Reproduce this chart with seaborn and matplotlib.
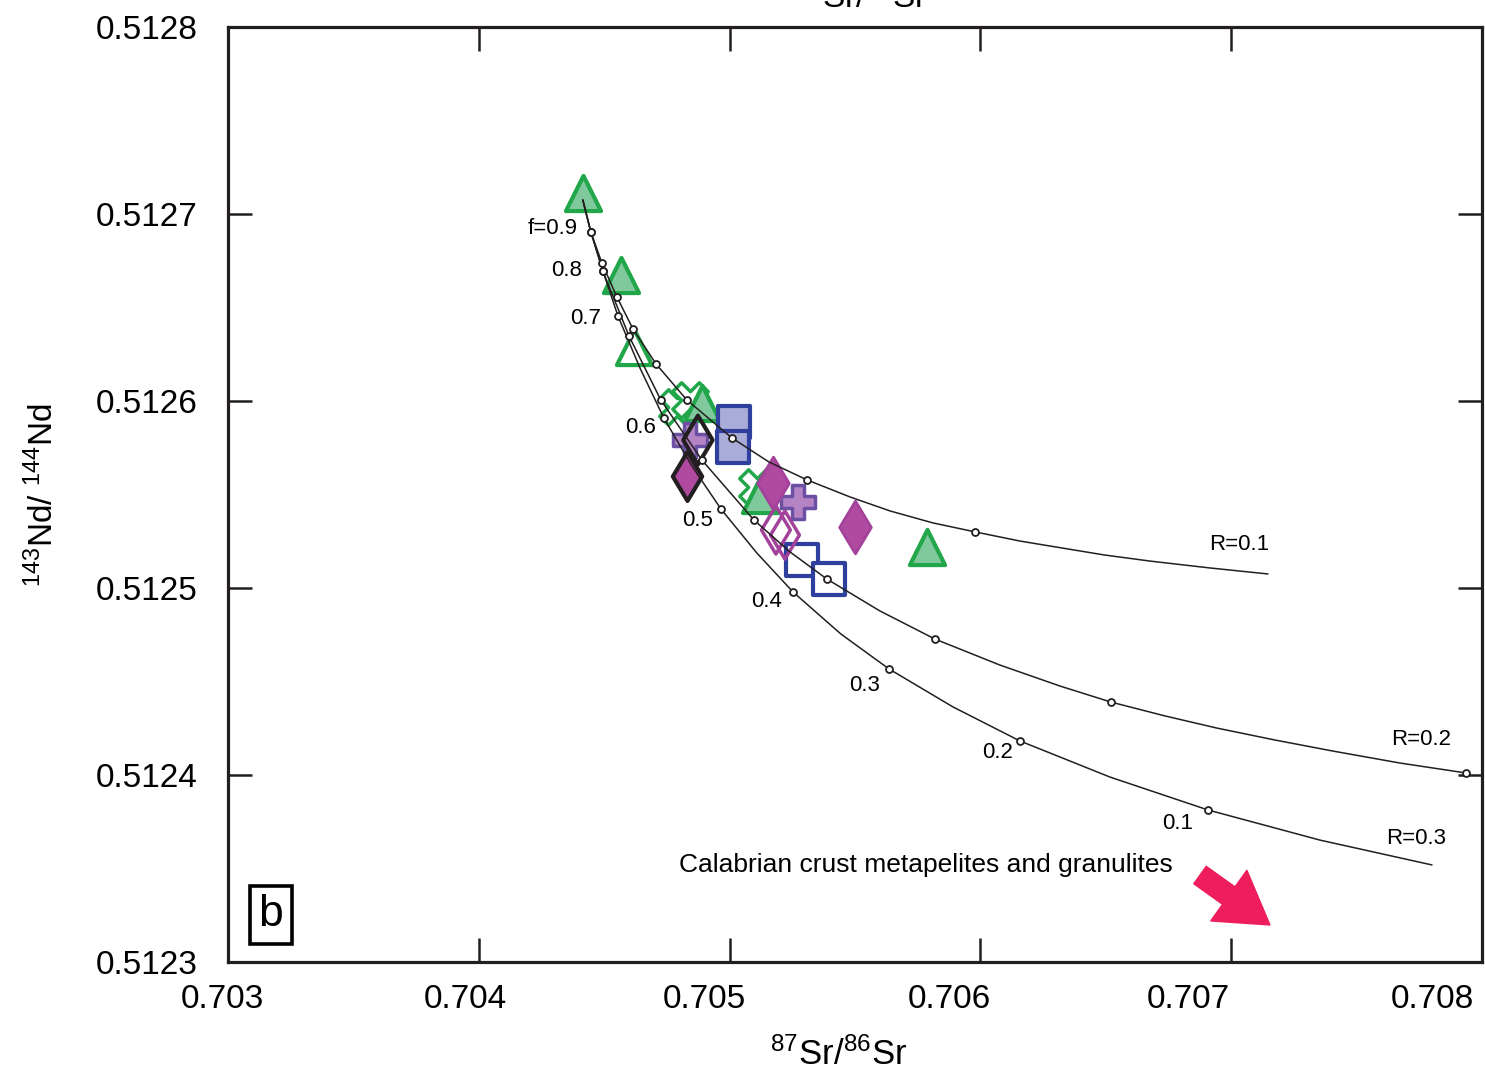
import seaborn as sns
import matplotlib.pyplot as plt
from matplotlib.ticker import FormatStrFormatter
from matplotlib.transforms import ScaledTranslation

# AFC mixing curves (87Sr/86Sr, 143Nd/144Nd)
r01_x = [0.704415, 0.704447, 0.704491, 0.704551, 0.704615, 0.704707, 0.704830, 0.705010, 0.705157, 0.705309,
         0.705480, 0.705640, 0.705811, 0.705979, 0.706158, 0.706325, 0.706497, 0.706676, 0.706916, 0.707147]
r01_y = [0.5127075, 0.5126904, 0.5126738, 0.5126556, 0.5126385, 0.5126198, 0.5126005, 0.5125802, 0.5125674, 0.5125578,
         0.5125487, 0.5125412, 0.5125348, 0.5125300, 0.5125251, 0.5125214, 0.5125176, 0.5125144, 0.5125107, 0.5125075]
r02_x = [0.704415, 0.704447, 0.704495, 0.704599, 0.704726, 0.704890, 0.705097, 0.705241, 0.705388, 0.705600,
         0.705819, 0.706078, 0.706317, 0.706521, 0.706736, 0.706943, 0.707175, 0.707406, 0.707673, 0.707936]
r02_y = [0.5127075, 0.5126904, 0.5126695, 0.5126348, 0.5126005, 0.5125684, 0.5125364, 0.5125193, 0.5125048, 0.5124877,
         0.5124727, 0.5124588, 0.5124476, 0.5124390, 0.5124316, 0.5124251, 0.5124187, 0.5124128, 0.5124064, 0.5124011]
r03_x = [0.704415, 0.704447, 0.704495, 0.704555, 0.704643, 0.704738, 0.704850, 0.704966, 0.705109, 0.705253,
         0.705444, 0.705636, 0.705891, 0.706158, 0.706517, 0.706908, 0.707354, 0.707801]
r03_y = [0.5127075, 0.5126904, 0.5126695, 0.5126455, 0.5126176, 0.5125909, 0.5125652, 0.5125422, 0.5125187, 0.5124979,
         0.5124754, 0.5124567, 0.5124364, 0.5124182, 0.5123989, 0.5123813, 0.5123652, 0.5123519]

# f steps marked on the curves
r01_fx = [0.704447, 0.704491, 0.704551, 0.704615, 0.704707, 0.704830, 0.705010, 0.705309, 0.705979]
r01_fy = [0.5126904, 0.5126738, 0.5126556, 0.5126385, 0.5126198, 0.5126005, 0.5125802, 0.5125578, 0.5125300]
r02_fx = [0.704495, 0.704599, 0.704726, 0.704890, 0.705097, 0.705388, 0.705819, 0.706521, 0.707936]
r02_fy = [0.5126695, 0.5126348, 0.5126005, 0.5125684, 0.5125364, 0.5125048, 0.5124727, 0.5124390, 0.5124011]
r03_fx = [0.704447, 0.704495, 0.704555, 0.704738, 0.704966, 0.705253, 0.705636, 0.706158, 0.706908]
r03_fy = [0.5126904, 0.5126695, 0.5126455, 0.5125909, 0.5125422, 0.5124979, 0.5124567, 0.5124182, 0.5123813]

f_labels = ['f=0.9', '0.8', '0.7', '0.6', '0.5', '0.4', '0.3', '0.2', '0.1']
f_lab_x = [0.704296, 0.704352, 0.704427, 0.704647, 0.704874, 0.705149, 0.705540, 0.706070, 0.706788]
f_lab_y = [0.512692, 0.512670, 0.512644, 0.512586, 0.512536, 0.512493, 0.512448, 0.512412, 0.512374]
r_labels = ['R=0.1', 'R=0.2', 'R=0.3']
r_lab_x = [0.707031, 0.707757, 0.707737]
r_lab_y = [0.512523, 0.512419, 0.512366]

# samples
tri_x = [0.704415, 0.704567, 0.704890, 0.705121, 0.705787]
tri_y = [0.5127112, 0.5126674, 0.5125989, 0.5125497, 0.5125219]
tri_open_x = [0.704619]
tri_open_y = [0.5126289]
xmk_x = [0.704790, 0.704842, 0.705109]
xmk_y = [0.5125968, 0.5126005, 0.5125540]
sq_x = [0.705018, 0.705014]
sq_y = [0.5125888, 0.5125754]
sq_open_x = [0.705289, 0.705396]
sq_open_y = [0.5125150, 0.5125048]
plus_x = [0.704842, 0.705273]
plus_y = [0.5125791, 0.5125460]
dia_x = [0.705173, 0.705500]
dia_y = [0.5125561, 0.5125326]
dia_open_x = [0.705185, 0.705221]
dia_open_y = [0.5125310, 0.5125283]
bdia_x = [0.704830]
bdia_y = [0.5125599]
bdia_open_x = [0.704874]
bdia_open_y = [0.5125791]

x_ticks = [0.703, 0.704, 0.705, 0.706, 0.707, 0.708]
y_ticks = [0.5123, 0.5124, 0.5125, 0.5126, 0.5127, 0.5128]

GREEN, GREEN_F = '#22a64a', '#80c99c'
BLUE, BLUE_F = '#2f3f9d', '#a9acd7'
PURP, PURP_F = '#6b50a4', '#b584c4'
MAG, MAG_F = '#a3429a', '#b04aa1'
DARK = '#231f20'

sns.set_style('ticks')
plt.rcParams['font.family'] = ['Liberation Sans', 'DejaVu Sans']
plt.rcParams['mathtext.fontset'] = 'custom'
plt.rcParams['mathtext.rm'] = 'Liberation Sans'
plt.rcParams['mathtext.it'] = 'Liberation Sans:italic'
plt.rcParams['text.color'] = 'black'
plt.rcParams['axes.labelcolor'] = 'black'

fig = plt.figure(figsize=(14.85, 10.78), dpi=100)
ax = fig.add_axes([0.1535, 0.1076, 0.8444, 0.8674])

# sample symbols
sns.scatterplot(x=xmk_x, y=xmk_y, marker='X', s=650, facecolor='white', edgecolor=GREEN, linewidth=2.5, ax=ax, zorder=3)
sns.scatterplot(x=tri_x, y=tri_y, marker='^', s=640, color=GREEN_F, edgecolor=GREEN, linewidth=3, ax=ax, zorder=4)
sns.scatterplot(x=tri_open_x, y=tri_open_y, marker='^', s=640, facecolor='white', edgecolor=GREEN, linewidth=3, ax=ax, zorder=4)
sns.scatterplot(x=sq_x, y=sq_y, marker='s', s=500, color=BLUE_F, edgecolor=BLUE, linewidth=3, ax=ax, zorder=4)
sns.scatterplot(x=sq_open_x, y=sq_open_y, marker='s', s=500, facecolor='white', edgecolor=BLUE, linewidth=3, ax=ax, zorder=4)
sns.scatterplot(x=plus_x, y=plus_y, marker='P', s=600, color=PURP_F, edgecolor=PURP, linewidth=2.5, ax=ax, zorder=4)
sns.scatterplot(x=dia_x, y=dia_y, marker='d', s=720, color=MAG_F, edgecolor=MAG, linewidth=2, ax=ax, zorder=5)
sns.scatterplot(x=dia_open_x, y=dia_open_y, marker='d', s=600, facecolor='none', edgecolor=MAG, linewidth=2.5, ax=ax, zorder=5)
sns.scatterplot(x=bdia_x, y=bdia_y, marker='d', s=620, color=MAG_F, edgecolor=DARK, linewidth=3, ax=ax, zorder=5)
sns.scatterplot(x=bdia_open_x, y=bdia_open_y, marker='d', s=620, facecolor='none', edgecolor=DARK, linewidth=3, ax=ax, zorder=5)

# mixing curves on top
for cx, cy, fx, fy in [(r01_x, r01_y, r01_fx, r01_fy),
                       (r02_x, r02_y, r02_fx, r02_fy),
                       (r03_x, r03_y, r03_fx, r03_fy)]:
    sns.lineplot(x=cx, y=cy, sort=False, estimator=None, color=DARK, linewidth=1.1, ax=ax, zorder=6)
    ax.plot(fx, fy, 'o', ms=5, mfc='white', mec=DARK, mew=1.3, zorder=7)

for t, lx, ly in zip(f_labels, f_lab_x, f_lab_y):
    ax.text(lx, ly, t, fontsize=16, ha='center', va='center', zorder=8)
for t, lx, ly in zip(r_labels, r_lab_x, r_lab_y):
    ax.text(lx, ly, t, fontsize=16, ha='center', va='center', zorder=8)

ax.text(0.705783, 0.512352, 'Calabrian crust metapelites and granulites', fontsize=19,
        ha='center', va='center')
ax.annotate('', xy=(0.707155, 0.5123198), xytext=(0.706876, 0.5123465),
            arrowprops=dict(arrowstyle='simple,head_length=1.3,head_width=1.6,tail_width=0.55',
                            color='#ed1e5b', mutation_scale=28, shrinkA=0, shrinkB=0))
ax.text(0.0343, 0.0503, 'b', transform=ax.transAxes, fontsize=32, ha='center', va='center',
        bbox=dict(boxstyle='square,pad=0.2', fc='white', ec='black', lw=2.6))

ax.set_xlim(0.703, 0.708)
ax.set_ylim(0.5123, 0.5128)
ax.set_xticks(x_ticks)
ax.set_yticks(y_ticks)
ax.xaxis.set_major_formatter(FormatStrFormatter('%.3f'))
ax.yaxis.set_major_formatter(FormatStrFormatter('%.4f'))
ax.tick_params(direction='in', length=17, width=1.8, color=DARK, labelcolor='black',
               labelsize=24, top=True, right=True)
ax.tick_params(axis='y', pad=22)
ax.tick_params(axis='x', pad=16)
for s in ax.spines.values():
    s.set_linewidth(2.3)
    s.set_color(DARK)

ax.set_xlabel(r'$^{87}$Sr/$^{86}$Sr', fontsize=25)
ax.xaxis.set_label_coords(0.487, -0.08)
ax.set_ylabel(r'$^{143}$Nd/ $^{144}$Nd', fontsize=24)
ax.yaxis.set_label_coords(-0.134, 0.4995)

# x tick labels sit a little left of their ticks in the original
for tick, dx in zip(ax.xaxis.get_major_ticks(), [-6, -13, -25, -31, -43, -50]):
    tick.label1.set_transform(tick.label1.get_transform() + ScaledTranslation(dx / 100, 0, fig.dpi_scale_trans))

# axis title of the panel above, cut by the top edge
fig.text(0.58, 0.9926, r'$^{87}$Sr/$^{86}$Sr', fontsize=24, ha='center', va='baseline')

fig.savefig('out.png', dpi=100)
